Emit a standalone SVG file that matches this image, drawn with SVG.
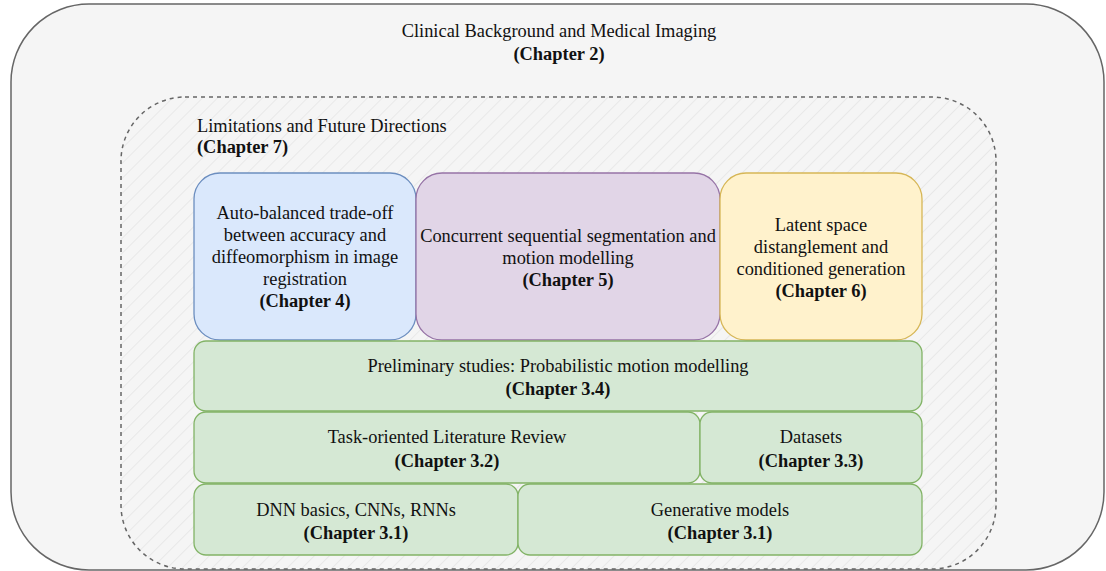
<svg xmlns="http://www.w3.org/2000/svg" width="1106" height="571" viewBox="0 0 1106 571">
  <style>
    text { font-family: "Liberation Serif", "Times New Roman", serif; font-size: 18.4px; fill: #111; }
    .c { text-anchor: middle; }
    .b { font-weight: bold; }
    .blue { fill: #dae8fc; stroke: #6c8ebf; stroke-width: 1.3; }
    .purple { fill: #e1d5e7; stroke: #9673a6; stroke-width: 1.3; }
    .yellow { fill: #fff2cc; stroke: #d6b656; stroke-width: 1.3; }
    .green { fill: #d5e8d4; stroke: #82b366; stroke-width: 1.3; }
  </style>
  <defs>
    <pattern id="hatch" width="10.6" height="10.6" patternUnits="userSpaceOnUse" patternTransform="rotate(45)">
      <line x1="0" y1="0" x2="0" y2="10.6" stroke="#dcdcdc" stroke-width="1"/>
    </pattern>
  </defs>

  <!-- outer context: clinical background -->
  <g id="clinical">
    <rect x="11" y="4" width="1093" height="566" rx="78" ry="78" fill="#f5f5f5" stroke="#666" stroke-width="1.5"/>
    <text class="c" x="559" y="37">Clinical Background and Medical Imaging</text>
    <text class="c b" x="559" y="60">(Chapter 2)</text>
  </g>

  <!-- limitations frame -->
  <g id="limitations">
    <rect x="121" y="97" width="875" height="472" rx="64" ry="64" fill="url(#hatch)" stroke="#666" stroke-width="1.5" stroke-dasharray="4 4"/>
    <text x="197" y="132">Limitations and Future Directions</text>
    <text class="b" x="197" y="153">(Chapter 7)</text>
  </g>

  <g id="ch4">
    <rect class="blue" x="194" y="173" width="222" height="167" rx="26" ry="26"/>
    <text class="c" x="305" y="219">Auto-balanced trade-off</text>
    <text class="c" x="305" y="241">between accuracy and</text>
    <text class="c" x="305" y="263">diffeomorphism in image</text>
    <text class="c" x="305" y="285">registration</text>
    <text class="c b" x="305" y="307">(Chapter 4)</text>
  </g>

  <g id="ch5">
    <rect class="purple" x="416" y="173" width="304" height="167" rx="26" ry="26"/>
    <text class="c" x="568" y="242">Concurrent sequential segmentation and</text>
    <text class="c" x="568" y="264">motion modelling</text>
    <text class="c b" x="568" y="286">(Chapter 5)</text>
  </g>

  <g id="ch6">
    <rect class="yellow" x="720" y="173" width="202" height="167" rx="26" ry="26"/>
    <text class="c" x="821" y="231">Latent space</text>
    <text class="c" x="821" y="253">distanglement and</text>
    <text class="c" x="821" y="275">conditioned generation</text>
    <text class="c b" x="821" y="297">(Chapter 6)</text>
  </g>

  <g id="ch3-4">
    <rect class="green" x="194" y="341" width="728" height="70" rx="12" ry="12"/>
    <text class="c" x="558" y="372">Preliminary studies: Probabilistic motion modelling</text>
    <text class="c b" x="558" y="395">(Chapter 3.4)</text>
  </g>

  <g id="ch3-2">
    <rect class="green" x="194" y="412" width="506" height="71" rx="12" ry="12"/>
    <text class="c" x="447" y="443">Task-oriented Literature Review</text>
    <text class="c b" x="447" y="467">(Chapter 3.2)</text>
  </g>

  <g id="ch3-3">
    <rect class="green" x="700" y="412" width="222" height="71" rx="12" ry="12"/>
    <text class="c" x="811" y="443">Datasets</text>
    <text class="c b" x="811" y="467">(Chapter 3.3)</text>
  </g>

  <g id="ch3-1-dnn">
    <rect class="green" x="194" y="484" width="324" height="71" rx="12" ry="12"/>
    <text class="c" x="356" y="516">DNN basics, CNNs, RNNs</text>
    <text class="c b" x="356" y="539">(Chapter 3.1)</text>
  </g>

  <g id="ch3-1-gen">
    <rect class="green" x="518" y="484" width="404" height="71" rx="12" ry="12"/>
    <text class="c" x="720" y="516">Generative models</text>
    <text class="c b" x="720" y="539">(Chapter 3.1)</text>
  </g>

  <g id="connectors"></g>
</svg>
